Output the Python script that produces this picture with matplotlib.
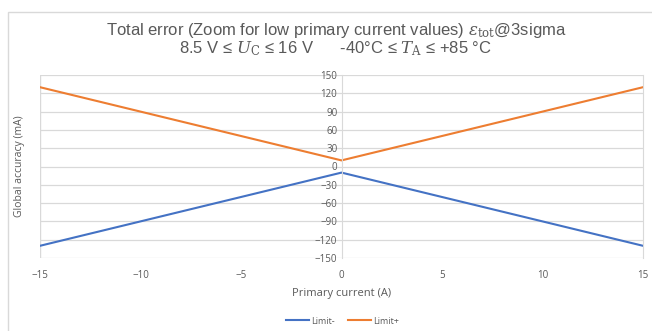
import matplotlib
matplotlib.use("Agg")
import matplotlib.pyplot as plt
from matplotlib.patches import Rectangle

# data
current = [-15, 0, 15]
limit_minus = [-130, -10, -130]
limit_plus = [130, 10, 130]
x_ticks = [-15, -10, -5, 0, 5, 10, 15]
y_ticks = list(range(-150, 151, 30))

grid_c = "#d9d9d9"
text_c = "#595959"

plt.rcParams["font.family"] = ["Open Sans", "DejaVu Sans"]
plt.rcParams["mathtext.fontset"] = "dejavuserif"

fig = plt.figure(figsize=(6.52, 3.31), dpi=100)
fig.patches.append(Rectangle((8 / 652, -0.1), 2, 1.1 - 12 / 331, transform=fig.transFigure,
                             fill=False, edgecolor=grid_c, linewidth=1))

ax = fig.add_axes([40 / 652, (331 - 258) / 331, (643 - 40) / 652, (258 - 75) / 331])

ax.plot(current, limit_minus, color="#4472c4", linewidth=1.5, label="Limit-")
ax.plot(current, limit_plus, color="#ed7d31", linewidth=1.5, label="Limit+")

ax.set_xlim(-15, 15)
ax.set_ylim(-150, 150)
ax.set_xticks(x_ticks)
ax.set_yticks(y_ticks)
ax.grid(axis="y", color=grid_c, linewidth=0.9)
ax.set_axisbelow(True)

for s in ["top", "bottom"]:
    ax.spines[s].set_visible(False)
ax.spines["right"].set_color(grid_c)
ax.spines["left"].set_color(grid_c)
ax.spines["left"].set_position(("data", 0))
ax.axvline(-15, color=grid_c, linewidth=1, zorder=0)

ax.tick_params(axis="y", length=0, labelsize=7, labelcolor=text_c, pad=3)
ax.tick_params(axis="x", length=0, labelsize=7, labelcolor=text_c, pad=9)

ax.set_xlabel("Primary current (A)", fontsize=8, color=text_c, labelpad=5)
fig.text(20 / 652, (331 - 166) / 331, "Global accuracy (mA)", rotation=90, fontsize=7.5,
         color=text_c, ha="center", va="center")

title_font = ["Liberation Sans", "DejaVu Sans"]
fig.text(0.515, (331 - 31) / 331,
         r"Total error (Zoom for low primary current values) $\varepsilon_{\mathrm{tot}}$@3sigma",
         ha="center", va="center", fontsize=12, color=text_c, family=title_font)
fig.text(0.515, (331 - 49) / 331,
         r"8.5 V ≤ $U_{\mathrm{C}}$ ≤ 16 V      -40°C ≤ $T_{\mathrm{A}}$ ≤ +85 °C",
         ha="center", va="center", fontsize=12, color=text_c, family=title_font)

fig.legend(loc="center", bbox_to_anchor=(0.525, (331 - 321) / 331), ncol=2, frameon=False,
           fontsize=6.5, labelcolor=text_c, handlelength=2.6, handletextpad=0.2, columnspacing=1.5)

fig.savefig("out.png", dpi=100)
